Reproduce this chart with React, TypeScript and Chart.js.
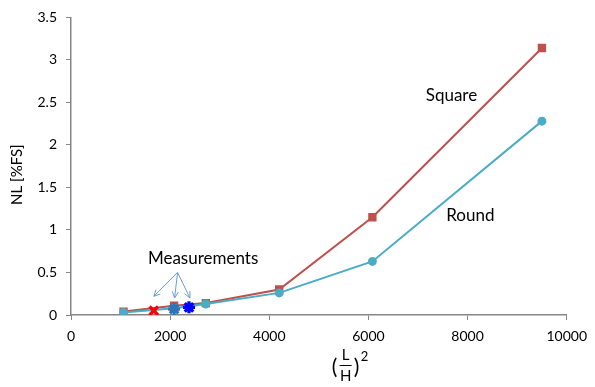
import React, { useEffect, useRef } from "react";
import { Chart, registerables } from "chart.js";

Chart.register(...registerables);

const xValues = [1060, 2080, 2720, 4200, 6080, 9500];
const squareValues = [0.04, 0.11, 0.14, 0.3, 1.15, 3.14];
const roundValues = [0.03, 0.08, 0.13, 0.26, 0.63, 2.28];
const measX = [1670, 2080, 2380];
const measY = [0.05, 0.07, 0.09];
const measColors = ["#FF0000", "#2E75B6", "#0000FF"];
const measStyles = ["crossRot", "star", "star"];
const yTicks = [0, 0.5, 1, 1.5, 2, 2.5, 3, 3.5];
const xTicks = [0, 2000, 4000, 6000, 8000, 10000];
const labels = [
  { text: "Square", x: 7675, y: 2.58 },
  { text: "Round", x: 8056, y: 1.17 },
  { text: "Measurements", x: 2665, y: 0.67 },
];
const arrowOrigin = { x: 2150, y: 0.5 };
const arrowTips = [
  { x: 1670, y: 0.22 },
  { x: 2090, y: 0.2 },
  { x: 2400, y: 0.2 },
];

const FONT = "Lato, 'Open Sans', sans-serif";
const AXIS = "#868686";

export default function App() {
  const ref = useRef<HTMLCanvasElement>(null);
  useEffect(() => {
    document.body.style.margin = "0";
    const ctx = ref.current!.getContext("2d")!;
    const annot = {
      id: "annot",
      afterDraw(chart: any) {
        const c = chart.ctx;
        const xs = chart.scales.x;
        const ys = chart.scales.y;
        c.save();
        c.fillStyle = "#000";
        c.textAlign = "center";
        c.textBaseline = "middle";
        c.font = `17px ${FONT}`;
        labels.forEach((l) => {
          c.fillText(l.text, xs.getPixelForValue(l.x), ys.getPixelForValue(l.y));
        });
        // arrows
        c.strokeStyle = "#6F9BD4";
        c.lineWidth = 1;
        const ox = xs.getPixelForValue(arrowOrigin.x);
        const oy = ys.getPixelForValue(arrowOrigin.y);
        arrowTips.forEach((t) => {
          const tx = xs.getPixelForValue(t.x);
          const ty = ys.getPixelForValue(t.y);
          c.beginPath();
          c.moveTo(ox, oy);
          c.lineTo(tx, ty);
          c.stroke();
          const ang = Math.atan2(ty - oy, tx - ox);
          const len = 7;
          c.beginPath();
          c.moveTo(tx - len * Math.cos(ang - 0.45), ty - len * Math.sin(ang - 0.45));
          c.lineTo(tx, ty);
          c.lineTo(tx - len * Math.cos(ang + 0.45), ty - len * Math.sin(ang + 0.45));
          c.stroke();
        });
        // y title
        c.save();
        c.translate(17, ys.getPixelForValue(1.65));
        c.rotate(-Math.PI / 2);
        c.font = `15px ${FONT}`;
        c.fillStyle = "#000";
        c.fillText("NL [%FS]", 0, 0);
        c.restore();
        // x title: (L/H)^2
        const cx = xs.getPixelForValue(5540);
        const cy = chart.chartArea.bottom + 50;
        c.font = `15px ${FONT}`;
        c.fillText("L", cx, cy - 10);
        c.fillText("H", cx, cy + 11);
        c.beginPath();
        c.strokeStyle = "#000";
        c.lineWidth = 1;
        c.moveTo(cx - 6, cy + 0.5);
        c.lineTo(cx + 6, cy + 0.5);
        c.stroke();
        c.font = `21px ${FONT}`;
        c.fillText("(", cx - 11, cy + 2);
        c.fillText(")", cx + 11, cy + 2);
        c.font = `13px ${FONT}`;
        c.fillText("2", cx + 19, cy - 8);
        c.restore();
      },
    };
    const fmt = (v: any) => String(v);
    const chart = new Chart(ctx, {
      type: "scatter",
      data: {
        datasets: [
          ...measX.map((mx, i) => ({
            label: "m" + i,
            data: [{ x: mx, y: measY[i] }],
            showLine: false,
            pointStyle: measStyles[i] as any,
            pointRadius: 6,
            borderWidth: 3.2,
            borderColor: measColors[i],
            backgroundColor: "transparent",
            order: 0,
          })),
          {
            label: "Square",
            data: xValues.map((x, i) => ({ x, y: squareValues[i] })),
            showLine: true,
            borderColor: "#C0504D",
            backgroundColor: "#C0504D",
            borderWidth: 2,
            pointStyle: "rect",
            pointRadius: 4.5,
            order: 2,
          },
          {
            label: "Round",
            data: xValues.map((x, i) => ({ x, y: roundValues[i] })),
            showLine: true,
            borderColor: "#4BACC6",
            backgroundColor: "#4BACC6",
            borderWidth: 2,
            pointStyle: "circle",
            pointRadius: 3.5,
            order: 1,
          },
        ],
      },
      options: {
        animation: false,
        responsive: false,
        layout: { padding: { top: 16, right: 25, left: 0, bottom: 0 } },
        plugins: { legend: { display: false }, tooltip: { enabled: false } },
        scales: {
          x: {
            type: "linear",
            min: 0,
            max: 10000,
            afterFit: (s: any) => {
              s.height = 387 - 315;
            },
            afterBuildTicks: (s: any) => {
              s.ticks = xTicks.map((v) => ({ value: v }));
            },
            grid: { drawOnChartArea: false, drawTicks: true, tickLength: 5, color: AXIS },
            border: { color: AXIS, width: 1.5 },
            ticks: { color: "#000", font: { family: FONT, size: 14 }, padding: 8, callback: fmt },
          },
          y: {
            type: "linear",
            min: 0,
            max: 3.5,
            afterFit: (s: any) => {
              s.width = 71;
            },
            afterBuildTicks: (s: any) => {
              s.ticks = yTicks.map((v) => ({ value: v }));
            },
            grid: { drawOnChartArea: false, drawTicks: true, tickLength: 5, color: AXIS },
            border: { color: AXIS, width: 1.5 },
            ticks: { color: "#000", font: { family: FONT, size: 14 }, padding: 9, callback: fmt },
          },
        },
      },
      plugins: [annot],
    });
    return () => chart.destroy();
  }, []);
  return <canvas ref={ref} width={595} height={387} style={{ display: "block" }} />;
}
